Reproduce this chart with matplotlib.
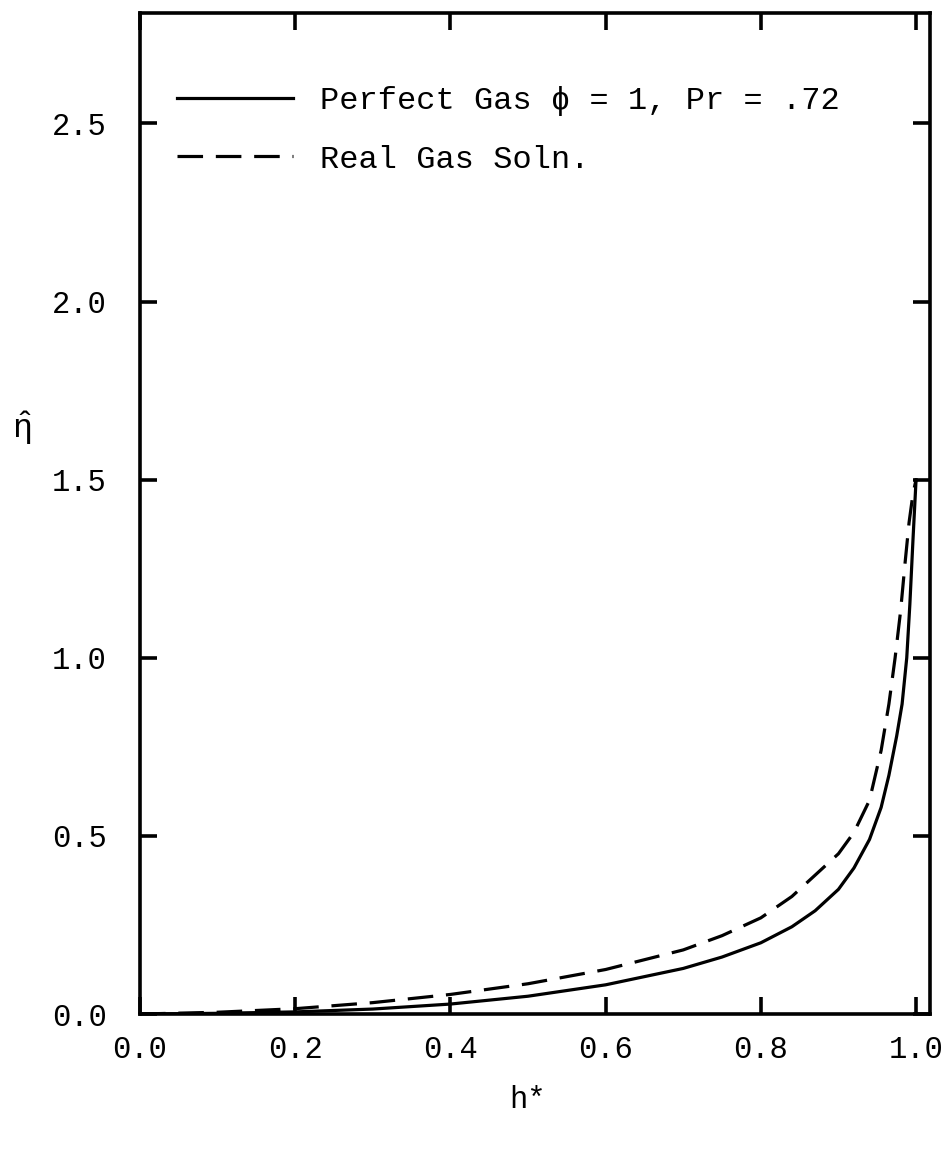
import matplotlib.pyplot as plt
from matplotlib.ticker import FixedLocator

# perfect gas, phi = 1, Pr = .72
H_PERFECT = [0.0, 0.1, 0.2, 0.3, 0.4, 0.5, 0.6, 0.7, 0.75, 0.8, 0.84, 0.87,
             0.9, 0.92, 0.94, 0.955, 0.965, 0.975, 0.982, 0.988, 0.992,
             0.996, 1.0]
ETA_PERFECT = [0.0, 0.002, 0.006, 0.014, 0.028, 0.05, 0.082, 0.128, 0.16,
               0.2, 0.245, 0.29, 0.35, 0.41, 0.49, 0.58, 0.67, 0.78, 0.87,
               1.0, 1.15, 1.33, 1.5]

# real gas solution
H_REAL = [0.0, 0.1, 0.2, 0.3, 0.4, 0.5, 0.6, 0.7, 0.75, 0.8, 0.84, 0.87,
          0.9, 0.92, 0.94, 0.955, 0.965, 0.973, 0.98, 0.986, 0.991,
          0.996, 1.0]
ETA_REAL = [0.0, 0.005, 0.015, 0.032, 0.055, 0.085, 0.125, 0.18, 0.22, 0.27,
            0.33, 0.39, 0.45, 0.51, 0.6, 0.74, 0.87, 1.0, 1.13, 1.27, 1.38,
            1.46, 1.5]

X_TICKS = [0.0, 0.2, 0.4, 0.6, 0.8, 1.0]
X_TICK_LABELS = ["0.0", "0.2", "0.4", "0.6", "0.8", "1.0"]
Y_TICKS = [0.0, 0.5, 1.0, 1.5, 2.0, 2.5]
Y_TICK_LABELS = ["0.0", "0.5", "1.0", "1.5", "2.0", "2.5"]

MONO = ["Liberation Mono", "DejaVu Sans Mono"]
plt.rcParams["font.family"] = MONO
plt.rcParams["mathtext.fontset"] = "custom"
plt.rcParams["mathtext.rm"] = "Liberation Mono"
plt.rcParams["mathtext.it"] = "Liberation Mono"

fig = plt.figure(figsize=(9.44, 11.51), dpi=100)
ax = fig.add_axes([0.1483, 0.1190, 0.8369, 0.8697])

ax.plot(H_PERFECT, ETA_PERFECT, color="black", lw=2.3,
        label="Perfect Gas \u03d5 = 1, Pr = .72")
ax.plot(H_REAL, ETA_REAL, color="black", lw=2.3, dashes=(8, 4),
        label="Real Gas Soln.")

ax.set_xlim(0, 1.018)
ax.set_ylim(0, 2.81)

ax.xaxis.set_major_locator(FixedLocator(X_TICKS))
ax.yaxis.set_major_locator(FixedLocator(Y_TICKS))
ax.set_xticklabels(X_TICK_LABELS)
ax.set_yticklabels(Y_TICK_LABELS)

for side in ax.spines.values():
    side.set_linewidth(2.6)

ax.tick_params(axis="both", direction="in", length=12, width=2.6,
               top=True, right=True, labelsize=22)
ax.tick_params(axis="x", pad=15)
ax.tick_params(axis="y", pad=24)

ax.set_xlabel("h*", fontsize=22)
ax.xaxis.label.set_va("center")
ax.xaxis.set_label_coords(0.49, -0.086)
ax.set_ylabel(r"$\hat{\eta}$", fontsize=24, rotation=0, va="center")
ax.yaxis.set_label_coords(-0.15, 0.585)

ax.legend(loc="upper left", bbox_to_anchor=(0.031, 0.94), frameon=False,
          fontsize=23, handlelength=3.63, handletextpad=0.85,
          labelspacing=0.9, borderaxespad=0)

fig.savefig("out.png", dpi=100)
